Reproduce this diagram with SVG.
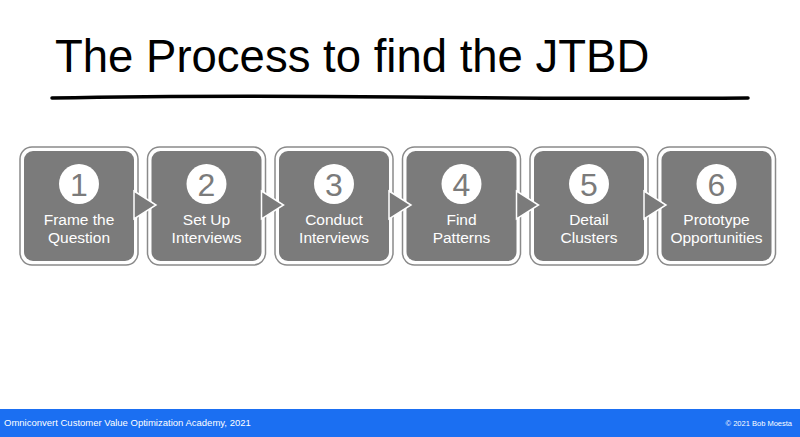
<svg xmlns="http://www.w3.org/2000/svg" width="800" height="437" viewBox="0 0 800 437">
<style>
.outer{fill:#fff;stroke:#8a8a8a;stroke-width:1.5}
.inner{fill:#7b7b7b}
.num{font-family:"Liberation Sans",Arial,sans-serif;font-size:32px;fill:#7b7b7b;text-anchor:middle}
.lbl{font-family:"Liberation Sans",Arial,sans-serif;font-size:15.5px;fill:#fff;text-anchor:middle}
.arr{fill:#7b7b7b;stroke:#fff;stroke-width:1.5}
</style>
<rect width="800" height="437" fill="#fff"/>
<text x="55" y="72" font-family="Liberation Sans,Arial,sans-serif" font-size="45.5" fill="#000">The Process to find the JTBD</text>
<path d="M52 98 Q200 95 400 97 T748 98" stroke="#000" stroke-width="3.5" fill="none" stroke-linecap="round"/>
<g id="n1"><rect class="outer" x="20" y="147" width="118" height="118" rx="12"/><rect class="inner" x="24" y="151" width="110" height="110" rx="9"/><circle cx="79" cy="184" r="20" fill="#fff"/><text class="num" x="79" y="195.5">1</text><text class="lbl" x="79" y="225">Frame the</text><text class="lbl" x="79" y="243">Question</text></g>
<g id="n2"><rect class="outer" x="147.5" y="147" width="118" height="118" rx="12"/><rect class="inner" x="151.5" y="151" width="110" height="110" rx="9"/><circle cx="206.5" cy="184" r="20" fill="#fff"/><text class="num" x="206.5" y="195.5">2</text><text class="lbl" x="206.5" y="225">Set Up</text><text class="lbl" x="206.5" y="243">Interviews</text></g>
<g id="n3"><rect class="outer" x="275" y="147" width="118" height="118" rx="12"/><rect class="inner" x="279" y="151" width="110" height="110" rx="9"/><circle cx="334" cy="184" r="20" fill="#fff"/><text class="num" x="334" y="195.5">3</text><text class="lbl" x="334" y="225">Conduct</text><text class="lbl" x="334" y="243">Interviews</text></g>
<g id="n4"><rect class="outer" x="402.5" y="147" width="118" height="118" rx="12"/><rect class="inner" x="406.5" y="151" width="110" height="110" rx="9"/><circle cx="461.5" cy="184" r="20" fill="#fff"/><text class="num" x="461.5" y="195.5">4</text><text class="lbl" x="461.5" y="225">Find</text><text class="lbl" x="461.5" y="243">Patterns</text></g>
<g id="n5"><rect class="outer" x="530" y="147" width="118" height="118" rx="12"/><rect class="inner" x="534" y="151" width="110" height="110" rx="9"/><circle cx="589" cy="184" r="20" fill="#fff"/><text class="num" x="589" y="195.5">5</text><text class="lbl" x="589" y="225">Detail</text><text class="lbl" x="589" y="243">Clusters</text></g>
<g id="n6"><rect class="outer" x="657.5" y="147" width="118" height="118" rx="12"/><rect class="inner" x="661.5" y="151" width="110" height="110" rx="9"/><circle cx="716.5" cy="184" r="20" fill="#fff"/><text class="num" x="716.5" y="195.5">6</text><text class="lbl" x="716.5" y="225">Prototype</text><text class="lbl" x="716.5" y="243">Opportunities</text></g>
<g id="connectors">
<polygon class="arr" points="134,191 156,205 134,219"/>
<polygon class="arr" points="261.5,191 283.5,205 261.5,219"/>
<polygon class="arr" points="389,191 411,205 389,219"/>
<polygon class="arr" points="516.5,191 538.5,205 516.5,219"/>
<polygon class="arr" points="644,191 666,205 644,219"/>
</g>
<rect x="0" y="409" width="800" height="28" fill="#1b6ff2"/>
<text x="4" y="426" font-family="Liberation Sans,Arial,sans-serif" font-size="9.5" fill="#fff">Omniconvert Customer Value Optimization Academy, 2021</text>
<text x="792" y="426" font-family="Liberation Sans,Arial,sans-serif" font-size="7.5" fill="#fff" text-anchor="end">© 2021 Bob Moesta</text>
</svg>
